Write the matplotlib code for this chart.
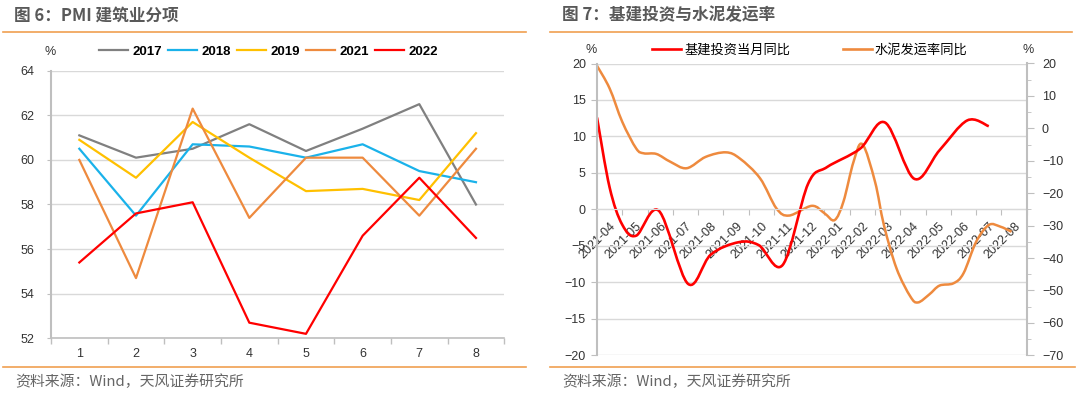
import numpy as np
import matplotlib
matplotlib.use('Agg')
import matplotlib.pyplot as plt
from matplotlib.path import Path
from matplotlib.patches import PathPatch
from matplotlib.lines import Line2D

plt.rcParams['font.family'] = ['Liberation Sans', 'Noto Sans CJK SC']

# 图6 PMI 建筑业分项 (月份 1-8)
months = [1, 2, 3, 4, 5, 6, 7, 8]
pmi_2017 = [61.1, 60.1, 60.5, 61.6, 60.4, 61.4, 62.5, 58.0]
pmi_2018 = [60.5, 57.5, 60.7, 60.6, 60.1, 60.7, 59.5, 59.0]
pmi_2019 = [60.9, 59.2, 61.7, 60.1, 58.6, 58.7, 58.2, 61.2]
pmi_2021 = [60.0, 54.7, 62.3, 57.4, 60.1, 60.1, 57.5, 60.5]
pmi_2022 = [55.4, 57.6, 58.1, 52.7, 52.2, 56.6, 59.2, 56.5]

# 图7 基建投资与水泥发运率
date_labels = ['2021-04', '2021-05', '2021-06', '2021-07', '2021-08', '2021-09',
               '2021-10', '2021-11', '2021-12', '2022-01', '2022-02', '2022-03',
               '2022-04', '2022-05', '2022-06', '2022-07', '2022-08']
# position in months since 2021-04 (axis runs 0..17)
infra_x = [0, 0.5, 1.0, 1.55, 2.45, 3.6, 4.5, 5.6, 6.4, 7.35, 8.35, 9.1,
           10.4, 11.4, 12.55, 13.55, 14.65, 15.5]
infra_y = [12.6, 3.0, -2.1, -3.6, -0.2, -10.2, -6.2, -4.5, -4.9, -7.6, 3.5, 5.8,
           8.3, 11.9, 4.2, 8.1, 12.2, 11.4]
cement_x = [0, 0.5, 1.0, 1.55, 1.85, 2.35, 2.9, 3.55, 4.3, 5.1, 5.65, 6.45,
            7.1, 7.6, 8.5, 9.0, 9.4, 9.75, 10.15, 10.5, 11.0, 11.35, 11.85,
            12.4, 12.7, 13.15, 13.55, 14.1, 14.5, 15.0, 15.5, 15.95, 16.4]
cement_y = [19.3, 12.3, 2.0, -6.2, -7.7, -7.9, -10.3, -12.3, -8.8, -7.4, -9.3, -15.4,
            -24.7, -26.9, -23.9, -26.2, -28.3, -22.6, -10.3, -4.9, -16.5, -29.8, -43.2,
            -51.9, -53.7, -51.2, -48.5, -47.8, -44.7, -35.0, -29.8, -30.3, -31.9]

W, H = 1080, 396
ORANGE = '#F0A050'
GRID = '#d9d9d9'
SPINE = '#bfbfbf'
TXT = '#333333'


def fx(px):
    return px / W


def fy(py):
    return 1 - py / H


def smooth_path(xs, ys):
    # excel-like smoothed line: catmull-rom segments as cubic beziers
    pts = np.column_stack([xs, ys]).astype(float)
    pad = np.vstack([pts[0], pts, pts[-1]])
    verts = [pts[0]]
    codes = [Path.MOVETO]
    for i in range(len(pts) - 1):
        p0, p1, p2, p3 = pad[i], pad[i + 1], pad[i + 2], pad[i + 3]
        verts += [p1 + (p2 - p0) / 6, p2 - (p3 - p1) / 6, p2]
        codes += [Path.CURVE4] * 3
    return Path(verts, codes)


fig = plt.figure(figsize=(W / 100, H / 100), dpi=100)

# ---------------- left chart ----------------
ax1 = fig.add_axes([fx(51), fy(338.3), fx(504.3 - 51), (338.3 - 70.7) / H])
series = [('2017', pmi_2017, '#808080'), ('2018', pmi_2018, '#1AB2EA'),
          ('2019', pmi_2019, '#FFC000'), ('2021', pmi_2021, '#EE8A3E'),
          ('2022', pmi_2022, '#FF0000')]
for name, vals, col in series:
    ax1.plot(months, vals, color=col, lw=1.6, label=name)
ax1.set_xlim(0.5, 8.5)
ax1.set_ylim(52, 64)
ax1.set_yticks(range(52, 65, 2))
ax1.set_xticks(np.arange(0.5, 8.6, 1), labels=[''] * 9)
ax1.set_xticks(months, labels=[str(m) for m in months], minor=True)
ax1.tick_params(axis='x', which='major', length=4, color=SPINE, width=1)
ax1.tick_params(axis='x', which='minor', length=0, pad=7, labelsize=9, labelcolor=TXT)
ax1.tick_params(axis='y', length=3, color=SPINE, pad=9, labelsize=9, labelcolor=TXT)
ax1.grid(axis='y', color=GRID, lw=1)
ax1.set_axisbelow(True)
for s in ['top', 'right']:
    ax1.spines[s].set_visible(False)
ax1.spines['left'].set_color(SPINE)
ax1.spines['left'].set_linewidth(1.5)
ax1.spines['bottom'].set_color(SPINE)
ax1.spines['bottom'].set_linewidth(1.2)
ax1.legend(ncol=5, loc='center', bbox_to_anchor=(fx(268.5), fy(51.7)),
           bbox_transform=fig.transFigure, frameon=False,
           prop={'weight': 'bold', 'size': 9.5}, handlelength=2.2,
           handletextpad=0.3, columnspacing=0.5, borderpad=0, borderaxespad=0)
fig.text(fx(50.6), fy(52), '%', ha='center', va='center', fontsize=9, color=TXT)

# ---------------- right chart ----------------
ax2 = fig.add_axes([fx(597), fy(355.3), fx(1026.7 - 597), (355.3 - 63.5) / H])
ax3 = ax2.twinx()
# move the category axis to y=0 first (this resets the ticks)
ax2.spines['bottom'].set_position(('data', 0))
ax2.set_xlim(0, 17)
ax2.set_ylim(-20, 20)
ax3.set_ylim(-70, 20)

# both lines live in ax2 so the date labels sit on top of them;
# the cement line uses the right-hand (ax3) scale
cement_line = PathPatch(smooth_path(cement_x, cement_y), fill=False,
                        edgecolor='#EE8A3E', lw=1.8, transform=ax3.transData)
infra_line = PathPatch(smooth_path(infra_x, infra_y), fill=False,
                       edgecolor='#FF0000', lw=1.9, transform=ax2.transData)
ax2.add_patch(cement_line)
ax2.add_patch(infra_line)
ax2.set_xlim(0, 17)
ax2.set_ylim(-20, 20)
ax3.set_ylim(-70, 20)

ax2.set_yticks(range(-20, 21, 5))
ax2.tick_params(axis='y', length=4, color=SPINE, pad=4, labelsize=9, labelcolor=TXT)
ax2.grid(axis='y', color=GRID, lw=1)
ax2.set_axisbelow(True)
ax2.set_xticks(range(0, 18), labels=[''] * 18)
ax2.set_xticks(np.arange(0.5, 17, 1), labels=date_labels, minor=True)
ax2.tick_params(axis='x', which='major', length=4, color=SPINE)
ax2.tick_params(axis='x', which='minor', length=0, pad=8, labelsize=9,
                labelcolor=TXT, labelrotation=45)
for lab in ax2.get_xticklabels(minor=True):
    lab.set_ha('right')
    lab.set_va('top')
    lab.set_rotation_mode('anchor')
ax2.spines['bottom'].set_color(GRID)
ax2.spines['left'].set_color(SPINE)
ax2.spines['left'].set_linewidth(1.5)
ax2.spines['top'].set_visible(False)
ax2.spines['right'].set_visible(False)

ax3.set_yticks(range(-70, 21, 10))
ax3.set_yticks(range(-65, 20, 10), minor=True)
ax3.tick_params(axis='y', which='major', length=5, color=SPINE, pad=6, labelsize=9,
                labelcolor=TXT)
ax3.tick_params(axis='y', which='minor', length=3, color=SPINE)
for s in ['top', 'bottom', 'left']:
    ax3.spines[s].set_visible(False)
ax3.spines['right'].set_color(SPINE)
ax3.spines['right'].set_linewidth(1.5)

handles = [Line2D([], [], color='#FF0000', lw=1.9), Line2D([], [], color='#EE8A3E', lw=1.9)]
ax3.legend(handles, ['基建投资当月同比', '水泥发运率同比'], ncol=2, loc='center',
           bbox_to_anchor=(fx(809.8), fy(50)), bbox_transform=fig.transFigure,
           frameon=False, prop={'family': ['Noto Sans CJK SC'], 'size': 9.5},
           handlelength=2.2, handletextpad=0.2, columnspacing=4.0,
           borderpad=0, borderaxespad=0)
fig.text(fx(591.6), fy(50), '%', ha='center', va='center', fontsize=9, color=TXT)
fig.text(fx(1027.7), fy(50), '%', ha='center', va='center', fontsize=9, color=TXT)

# ---------------- titles / footers ----------------
cjk = ['Noto Sans CJK SC']
fig.text(fx(14), fy(15.5), '图 6：PMI 建筑业分项', fontsize=12, color='#595959',
         family=cjk, weight='bold', va='center')
fig.text(fx(562.5), fy(15.5), '图 7：基建投资与水泥发运率', fontsize=12, color='#595959',
         family=cjk, weight='bold', va='center')
for x0, x1 in [(3, 525.5), (550, 1072)]:
    fig.add_artist(Line2D([fx(x0), fx(x1)], [fy(31.7)] * 2, color=ORANGE, lw=1.2))
for x0, x1 in [(3, 525.7), (550, 1075)]:
    fig.add_artist(Line2D([fx(x0), fx(x1)], [fy(366.7)] * 2, color=ORANGE, lw=1.2))
fig.text(fx(15), fy(381.7), '资料来源：Wind，天风证券研究所', fontsize=10.7, color='#666666',
         family=cjk, va='center')
fig.text(fx(562.7), fy(381.7), '资料来源：Wind，天风证券研究所', fontsize=10.7, color='#666666',
         family=cjk, va='center')

fig.savefig('out.png', dpi=100)
